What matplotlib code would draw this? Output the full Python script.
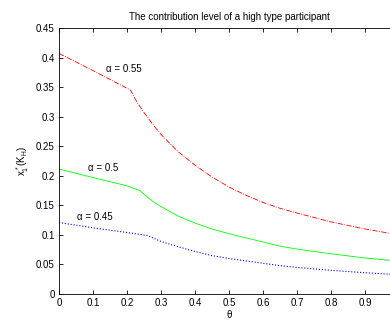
"""Contribution level of a high type participant vs theta."""

import matplotlib
matplotlib.use("Agg")
import matplotlib.pyplot as plt

plt.rcParams["font.family"] = ["Liberation Sans", "DejaVu Sans"]
plt.rcParams["mathtext.fontset"] = "custom"
plt.rcParams["mathtext.rm"] = "Liberation Sans"
plt.rcParams["mathtext.it"] = "Liberation Sans"

# Values
theta = [0.0, 0.1, 0.21, 0.23, 0.25, 0.28, 0.3, 0.35, 0.4, 0.45, 0.5, 0.55,
         0.6, 0.65, 0.7, 0.8, 0.9, 1.0]
x_a055 = [0.407, 0.378, 0.345, 0.324, 0.307, 0.284, 0.270, 0.241, 0.218,
          0.198, 0.181, 0.167, 0.155, 0.145, 0.137, 0.122, 0.110, 0.100]

theta_mid = [0.0, 0.1, 0.2, 0.238, 0.26, 0.28, 0.3, 0.35, 0.4, 0.45, 0.5,
             0.55, 0.6, 0.65, 0.7, 0.8, 0.9, 1.0]
x_a050 = [0.2115, 0.197, 0.183, 0.175, 0.164, 0.155, 0.148, 0.132, 0.120,
          0.110, 0.102, 0.095, 0.088, 0.081, 0.076, 0.068, 0.061, 0.0555]

theta_low = [0.0, 0.1, 0.2, 0.26, 0.28, 0.3, 0.35, 0.4, 0.45, 0.5, 0.55,
             0.6, 0.65, 0.7, 0.8, 0.9, 1.0]
x_a045 = [0.121, 0.112, 0.104, 0.099, 0.094, 0.089, 0.080, 0.072, 0.065,
          0.060, 0.056, 0.052, 0.048, 0.045, 0.040, 0.036, 0.0325]

fig = plt.figure(figsize=(3.9, 3.2), dpi=100)
ax = fig.add_axes([59 / 390, 26 / 320, 340 / 390, 266 / 320])

ax.plot(theta, x_a055, color="red", linestyle="-.", linewidth=0.6)
ax.plot(theta_mid, x_a050, color="#00ff00", linestyle="-", linewidth=0.6)
ax.plot(theta_low, x_a045, color="blue", linestyle=":", linewidth=0.8)

ax.text(0.137, 0.380, "\u03b1 = 0.55", fontsize=7, va="center")
ax.text(0.086, 0.2137, "\u03b1 = 0.5", fontsize=7, va="center")
ax.text(0.052, 0.131, "\u03b1 = 0.45", fontsize=7, va="center")

ax.set_xlim(0, 1)
ax.set_ylim(0, 0.45)
ax.set_xticks([0, 0.1, 0.2, 0.3, 0.4, 0.5, 0.6, 0.7, 0.8, 0.9])
ax.set_xticklabels(["0", "0.1", "0.2", "0.3", "0.4", "0.5", "0.6", "0.7", "0.8", "0.9"])
ax.set_yticks([0, 0.05, 0.1, 0.15, 0.2, 0.25, 0.3, 0.35, 0.4, 0.45])
ax.set_yticklabels(["0", "0.05", "0.1", "0.15", "0.2", "0.25", "0.3", "0.35", "0.4", "0.45"])
ax.tick_params(direction="in", top=True, right=True, length=3, width=0.6,
               labelsize=7, pad=3)
for s in ax.spines.values():
    s.set_linewidth(0.6)

ax.set_title("The contribution level of a high type participant", fontsize=7, pad=6)
ax.set_xlabel("\u03b8", fontsize=7, labelpad=1)
ax.set_ylabel(r"$x_1^*(K_H)$", fontsize=7, labelpad=4)

fig.savefig("out.png", dpi=100)
